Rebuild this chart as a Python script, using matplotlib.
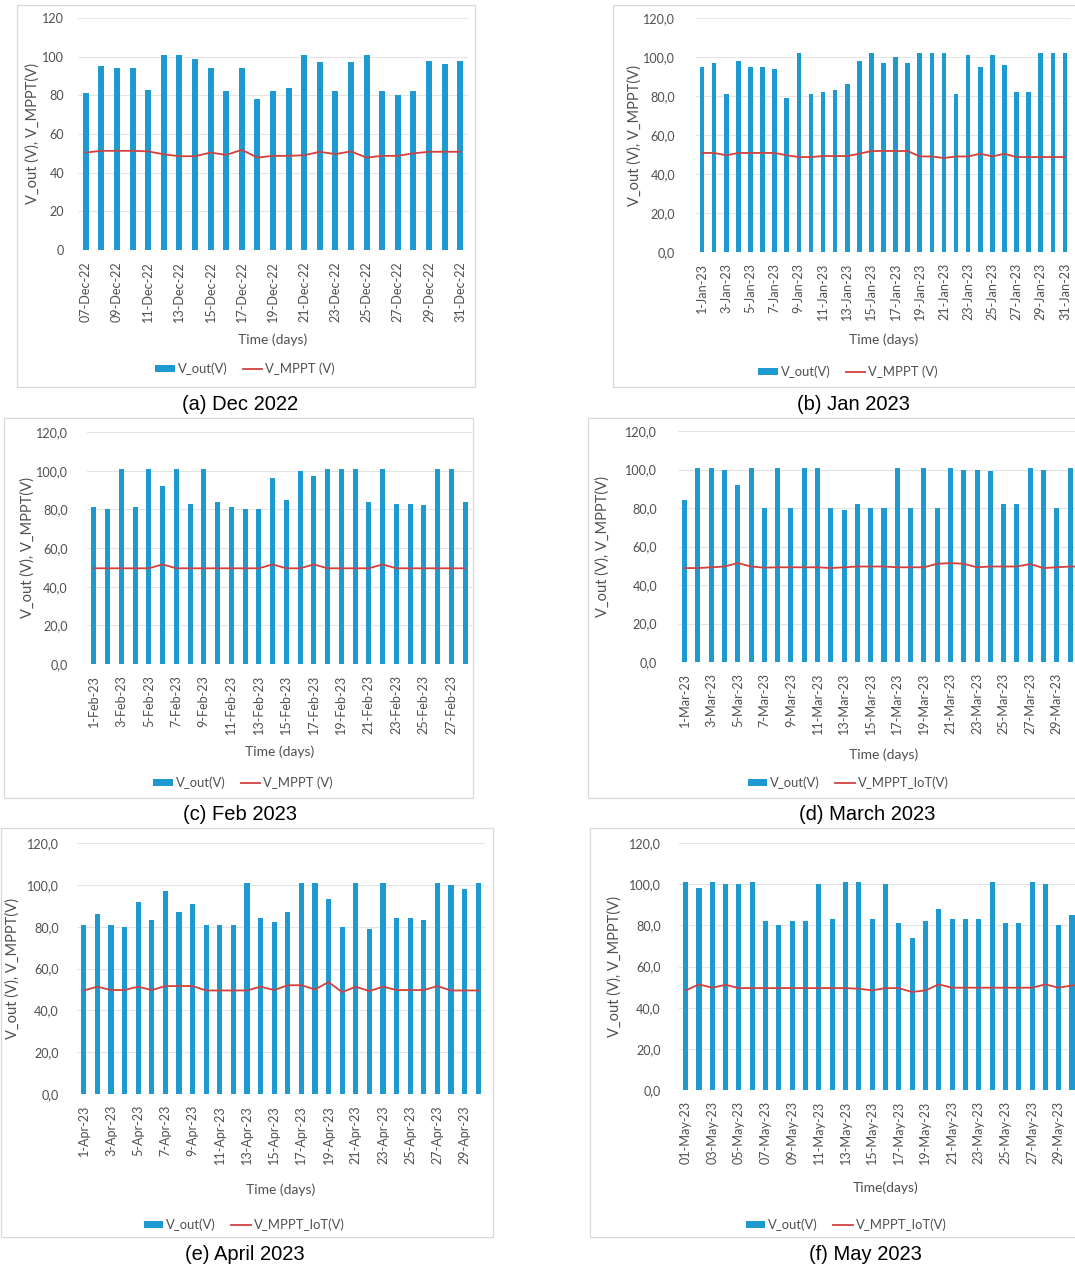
import matplotlib
matplotlib.use("Agg")
import matplotlib.pyplot as plt
from matplotlib.patches import Rectangle, Patch
from matplotlib.lines import Line2D

# ---------------- data ----------------
dec_days = list(range(7, 32))
dec_vout = [81, 95, 94, 94, 83, 101, 101, 99, 94, 82, 94, 78, 82, 84, 101,
            97, 82, 97, 101, 82, 80, 82, 98, 96, 98]
dec_mppt = [50.4, 51.3, 51.3, 51.3, 51.0, 49.5, 48.5, 48.5, 50.4, 49.2, 51.8,
            47.8, 48.7, 48.7, 49.0, 50.8, 49.6, 51.0, 47.8, 48.7, 48.7, 50.0,
            50.8, 50.8, 50.8]

jan_days = list(range(1, 32))
jan_vout = [95, 97, 81, 98, 95, 95, 94, 79, 102, 81, 82, 83, 86, 98, 102, 97,
            100, 97, 102, 102, 102, 81, 101, 95, 101, 96, 82, 82, 102, 102, 102]
jan_mppt = [50.8, 50.8, 49.6, 50.8, 50.8, 50.8, 50.8, 49.6, 48.7, 48.7, 49.2,
            49.2, 49.2, 50.4, 51.8, 51.8, 51.8, 51.8, 49.0, 49.0, 48.2, 49.0,
            49.0, 50.4, 49.0, 50.4, 48.7, 48.7, 48.7, 48.7, 48.7]

feb_days = list(range(1, 29))
feb_vout = [81, 80, 101, 81, 101, 92, 101, 83, 101, 84, 81, 80, 80, 96, 85,
            100, 97, 101, 101, 101, 84, 101, 83, 83, 82, 101, 101, 84]
feb_mppt = [49.5, 49.5, 49.5, 49.5, 49.5, 51.5, 49.5, 49.5, 49.5, 49.5, 49.5,
            49.5, 49.5, 51.5, 49.5, 49.5, 51.5, 49.5, 49.5, 49.5, 49.5, 51.5,
            49.5, 49.5, 49.5, 49.5, 49.5, 49.5]

mar_days = list(range(1, 32))
mar_vout = [84, 101, 101, 100, 92, 101, 80, 101, 80, 101, 101, 80, 79, 82, 80,
            80, 101, 80, 101, 80, 101, 100, 100, 99, 82, 82, 101, 100, 80, 101,
            100]
mar_mppt = [48.8, 48.8, 49.2, 49.6, 51.4, 49.6, 49.0, 49.2, 49.2, 49.2, 49.2,
            48.8, 49.2, 49.6, 49.6, 49.6, 49.2, 49.2, 49.2, 51.0, 51.4, 51.0,
            49.2, 49.6, 49.6, 49.6, 50.9, 48.8, 49.2, 49.6, 49.6]

apr_days = list(range(1, 31))
apr_vout = [81, 86, 81, 80, 92, 83, 97, 87, 91, 81, 81, 81, 101, 84, 82, 87,
            101, 101, 93, 80, 101, 79, 101, 84, 84, 83, 101, 100, 98, 101]
apr_mppt = [49.5, 51.3, 49.7, 49.7, 51.3, 49.7, 51.6, 51.6, 51.6, 49.5, 49.5,
            49.5, 49.5, 51.3, 49.7, 52.0, 52.0, 50.0, 53.5, 48.7, 51.3, 49.2,
            51.3, 49.7, 49.7, 49.7, 51.6, 49.5, 49.5, 49.5]

may_days = list(range(1, 32))
may_vout = [101, 98, 101, 100, 100, 101, 82, 80, 82, 82, 100, 83, 101, 101,
            83, 100, 81, 74, 82, 88, 83, 83, 83, 101, 81, 81, 101, 100, 80, 85,
            99]
may_mppt = [48.4, 51.3, 49.7, 51.1, 49.5, 49.5, 49.5, 49.5, 49.5, 49.5, 49.5,
            49.5, 49.5, 49.2, 48.4, 49.5, 49.5, 47.6, 48.4, 51.3, 49.7, 49.7,
            49.7, 49.7, 49.7, 49.7, 49.7, 51.3, 49.7, 50.8, 51.0]

# ---------------- style ----------------
W, H = 1075, 1272
BLUE = "#1F9AD0"
RED = "#D0403F"
GREY = "#505050"
GRID = "#E4E4E4"
FRAME = "#D9D9D9"
CHART_FONT = ["Lato", "DejaVu Sans"]
CAPTION_FONT = ["Liberation Sans", "DejaVu Sans"]
TICK_FS = 9.1
LABEL_FS = 10
YLABEL_FS = 10.5
LEGEND_FS = 9.4

fig = plt.figure(figsize=(W / 100, H / 100), dpi=100)


def fx(x):
    return x / W


def fy(y):
    return 1 - y / H


def panel(days, vout, mppt, month, yr, pad_day, int_ticks, xlabel,
          line_label, caption, axes_px, frame_px, ylabel_x, xlabel_y,
          legend_xy, caption_xy, ytick_pad):
    x0, y0, x1, y1 = frame_px
    fig.add_artist(Rectangle((fx(x0), fy(y1)), fx(x1 - x0), (y1 - y0) / H,
                             transform=fig.transFigure, fill=False,
                             edgecolor=FRAME, lw=0.9))
    a0, b0, a1, b1 = axes_px
    ax = fig.add_axes([fx(a0), fy(b1), fx(a1 - a0), (b1 - b0) / H])
    n = len(days)
    pos = list(range(n))
    ax.bar(pos, vout, width=0.38, color=BLUE, zorder=2)
    ax.plot(pos, mppt, color=RED, lw=1.3, zorder=3)
    ax.set_xlim(-0.5, n - 0.5)
    ax.set_ylim(0, 120)
    yt = list(range(0, 121, 20))
    ax.set_yticks(yt)
    if int_ticks:
        ax.set_yticklabels([str(v) for v in yt])
    else:
        ax.set_yticklabels([f"{v},0" for v in yt])

    # every second day is labelled; labels falling past the page edge are skipped
    step_px = (a1 - a0) / n
    tick_pos, labels = [], []
    for i in pos[::2]:
        if a0 + (i + 0.5) * step_px > W - 8:
            continue
        ds = f"{days[i]:02d}" if pad_day else str(days[i])
        tick_pos.append(i)
        labels.append(f"{ds}-{month}-{yr}")
    ax.set_xticks(tick_pos)
    ax.set_xticklabels(labels, rotation=90)
    ax.tick_params(axis="both", length=0, colors=GREY, labelsize=TICK_FS)
    ax.tick_params(axis="x", pad=8)
    ax.tick_params(axis="y", pad=ytick_pad)
    for lab in ax.get_xticklabels() + ax.get_yticklabels():
        lab.set_family(CHART_FONT)
    ax.grid(axis="y", color=GRID, lw=0.8, zorder=0)
    ax.set_axisbelow(True)
    for s in ax.spines.values():
        s.set_visible(False)
    ax.set_facecolor("none")

    fig.text(fx(ylabel_x), fy((b0 + b1) / 2), "V_out (V), V_MPPT(V)",
             rotation=90, ha="center", va="center", color=GREY,
             fontsize=YLABEL_FS, family=CHART_FONT)
    fig.text(fx((a0 + a1) / 2), fy(xlabel_y), xlabel, ha="center",
             va="center", color=GREY, fontsize=LABEL_FS, family=CHART_FONT)
    handles = [Patch(facecolor=BLUE, edgecolor="none"),
               Line2D([0], [0], color=RED, lw=1.3)]
    leg = ax.legend(handles, ["V_out(V)", line_label], loc="center",
                    bbox_to_anchor=(fx(legend_xy[0]), fy(legend_xy[1])),
                    bbox_transform=fig.transFigure, ncol=2, frameon=False,
                    handlelength=1.5, handleheight=0.5,
                    handletextpad=0.2, columnspacing=1.2,
                    prop={"family": CHART_FONT, "size": LEGEND_FS})
    for t in leg.get_texts():
        t.set_color(GREY)
    fig.text(fx(caption_xy[0]), fy(caption_xy[1]), caption, ha="center",
             va="center", color="black", fontsize=14.5, family=CAPTION_FONT)


panel(dec_days, dec_vout, dec_mppt, "Dec", "22", True, True, "Time (days)",
      "V_MPPT (V)", "(a) Dec 2022", (78, 18, 468, 250), (17, 5, 475, 387),
      33, 340, (245, 369), (240, 404), 10)
panel(jan_days, jan_vout, jan_mppt, "Jan", "23", False, False, "Time (days)",
      "V_MPPT (V)", "(b) Jan 2023", (696, 18, 1071, 252), (613, 5, 1083, 387),
      635, 340, (848, 372), (853, 404), 15)
panel(feb_days, feb_vout, feb_mppt, "Feb", "23", False, False, "Time (days)",
      "V_MPPT (V)", "(c) Feb 2023", (87, 432, 472, 664), (4, 418, 473, 798),
      28, 752, (243, 783), (240, 815), 14)
panel(mar_days, mar_vout, mar_mppt, "Mar", "23", False, False, "Time (days)",
      "V_MPPT_IoT(V)", "(d) March 2023", (678, 431, 1090, 662),
      (588, 418, 1108, 798), 603, 755, (848, 783), (867, 815), 15)
panel(apr_days, apr_vout, apr_mppt, "Apr", "23", False, False, "Time (days)",
      "V_MPPT_IoT(V)", "(e) April 2023", (77, 843, 485, 1094),
      (1, 828, 493, 1237), 13, 1190, (244, 1225), (245, 1254), 13)
panel(may_days, may_vout, may_mppt, "May", "23", True, False, "Time(days)",
      "V_MPPT_IoT(V)", "(f) May 2023", (679, 843, 1092, 1090),
      (590, 828, 1104, 1237), 615, 1188, (846, 1225), (865, 1255), 13)

fig.savefig("out.png", dpi=100, facecolor="white")
